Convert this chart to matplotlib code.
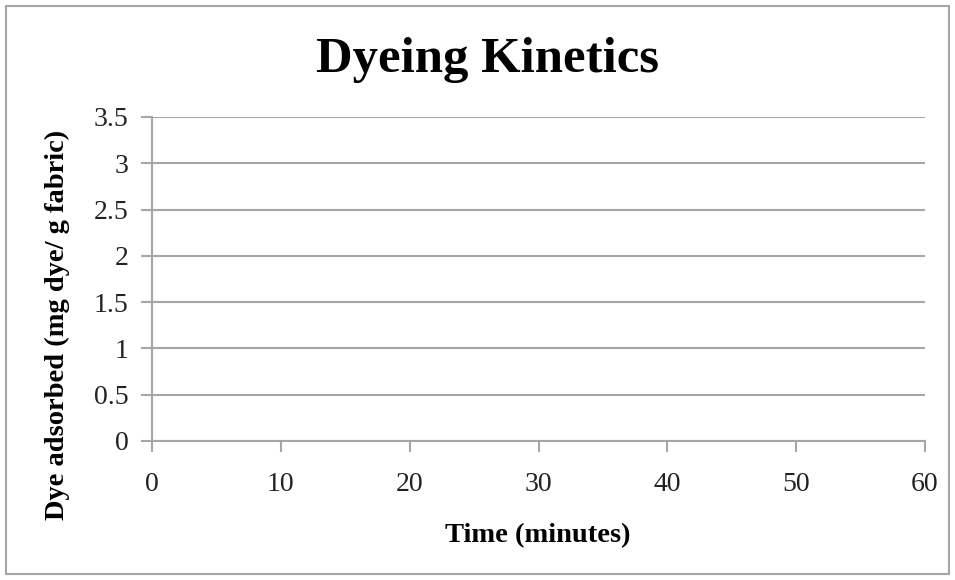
import matplotlib.pyplot as plt
from matplotlib.patches import Rectangle

# Axis ranges and tick values
x_ticks = [0, 10, 20, 30, 40, 50, 60]
y_ticks = [0, 0.5, 1, 1.5, 2, 2.5, 3, 3.5]
y_tick_labels = ["0", "0.5", "1", "1.5", "2", "2.5", "3", "3.5"]

# Measured series (no points recorded yet)
time_min = []
dye_adsorbed = []

GRID = "#a6a6a6"
plt.rcParams["font.family"] = ["Liberation Serif", "DejaVu Serif"]

W, H = 955, 580
fig = plt.figure(figsize=(W / 100, H / 100), dpi=100)
fig.patches.append(Rectangle((6 / W, 6 / H), 943 / W, 568 / H, transform=fig.transFigure,
                             fill=False, edgecolor=GRID, linewidth=1.5))

ax = fig.add_axes([152 / W, 1 - 441 / H, (925 - 152) / W, (441 - 117) / H])
ax.plot(time_min, dye_adsorbed, color="#4472c4")

ax.set_xlim(0, 60)
ax.set_ylim(0, 3.5)
ax.set_xticks(x_ticks)
ax.set_yticks(y_ticks)
ax.set_yticklabels(y_tick_labels)
ax.grid(axis="y", color=GRID, linewidth=1.5)
ax.set_axisbelow(True)

for side in ("top", "right"):
    ax.spines[side].set_visible(False)
for side in ("left", "bottom"):
    ax.spines[side].set_color(GRID)
    ax.spines[side].set_linewidth(1.5)
ax.tick_params(axis="both", colors=GRID, length=8, width=1.5, labelcolor="#222222", labelsize=20)
ax.tick_params(axis="x", pad=14)
ax.tick_params(axis="y", pad=9)

fig.text(487 / W, 1 - 60 / H, "Dyeing Kinetics", ha="center", va="center",
         fontsize=36.5, fontweight="bold")
fig.text(538 / W, 1 - 536 / H, "Time (minutes)", ha="center", va="center",
         fontsize=20.5, fontweight="bold")
fig.text(57 / W, 1 - 325 / H, "Dye adsorbed (mg dye/ g fabric)", ha="center", va="center",
         rotation=90, fontsize=20.5, fontweight="bold")

fig.savefig("out.png", dpi=100)
